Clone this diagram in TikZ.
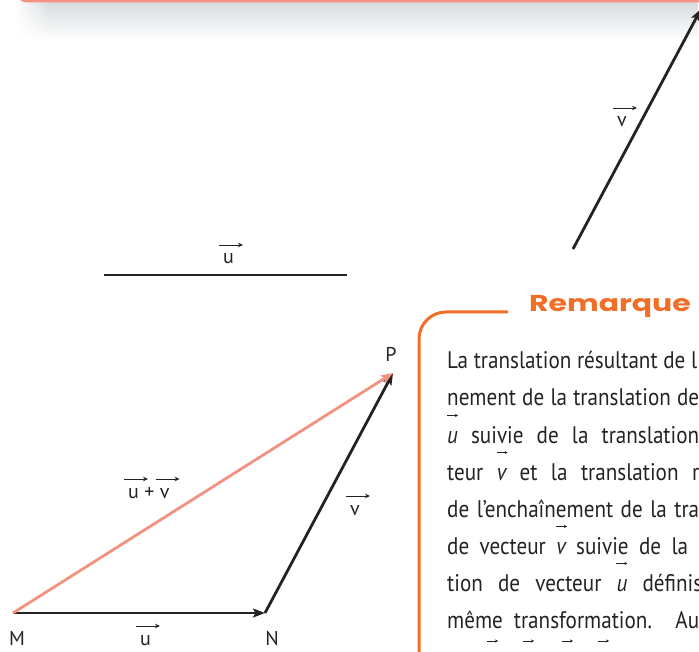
\documentclass[tikz,border=0pt]{standalone}
\usepackage{fontspec}
\usepackage{graphicx}
\usetikzlibrary{arrows.meta,fadings}
\setmainfont{PT Sans}
\newfontfamily\textefont[FakeStretch=0.88]{PT Sans}
\newfontfamily\titrefont[FakeStretch=1.3]{Poppins}
\definecolor{saumon}{RGB}{243,146,128}
\definecolor{orangerem}{RGB}{240,110,40}
\definecolor{encre}{RGB}{38,34,35}
\definecolor{ombre}{RGB}{214,218,221}

% fleche au-dessus d'une lettre (figure)
\newcommand{\vfig}[1]{\tikz[baseline=(t.base)]{\node[inner sep=0pt] (t) {#1};
  \draw[overlay, encre, line width=0.9pt, -{Stealth[length=5pt,width=4.5pt]}] ([xshift=-4pt,yshift=19pt]t.base west) -- ++(24pt,0pt);}}
% fleche au-dessus d'une lettre (texte)
\newcommand{\vtxt}[1]{\tikz[baseline=(t.base)]{\node[inner sep=0pt] (t) {\itshape #1};
  \draw[overlay, encre, line width=0.6pt, -{Stealth[length=3pt,width=3pt]}] ([yshift=27.5pt]t.base west) -- ++(11pt,0pt);}}

\begin{document}
\begin{tikzpicture}[x=1pt, y=-1pt,
  trait/.style={line width=2.8pt, draw=encre},
  fleche/.style={trait, -{Stealth[length=12pt,width=9pt,inset=2.5pt]}},
  somme/.style={fleche, draw=saumon, fill=saumon},
  etiq/.style={inner sep=0pt, anchor=base, text=encre, font=\fontsize{20}{24}\selectfont},
  ligne/.style={inner sep=0pt, anchor=base west, text=encre, font=\textefont\fontsize{24}{28}\selectfont},
  titre/.style={inner sep=0pt, anchor=base west, text=orangerem, font=\titrefont\bfseries\fontsize{23}{26}\selectfont}]
\useasboundingbox (0,0) rectangle (699,652);
\clip (0,0) rectangle (699,652);

% bas du cadre precedent
\fill[ombre, path fading=south] (15,2) rectangle (699,40);
\fill[white, path fading=east] (15,2) rectangle (50,40);
\draw[saumon, line width=3pt, rounded corners=14pt] (14,-30) -- (14,1) -- (710,1);

% vecteurs u et v
\coordinate (u0) at (104,275);
\coordinate (u1) at (347,275);
\coordinate (v0) at (573,249);
\coordinate (v1) at (701,9);
\draw[trait, line width=2.6pt] (u0) -- (u1);
\draw[fleche] (v0) -- (v1);
\node[etiq, anchor=base west] (nomU) at (223,264) {\vfig{u}};
\node[etiq, anchor=base west] (nomV) at (617,127) {\vfig{v}};

% triangle MNP
\coordinate (M) at (13,613);
\coordinate (N) at (265,613);
\coordinate (P) at (393,373);
\draw[fleche] (M) -- (N);
\draw[fleche] (N) -- (P);
\draw[somme] (M) -- (P);
\node[etiq] (nomM) at (17,645) {M};
\node[etiq] (nomN) at (272,645) {N};
\node[etiq] (nomP) at (391,362) {P};
\node[etiq, anchor=base west] (nomMN) at (140,645) {\vfig{u}};
\node[etiq, anchor=base west] (nomNP) at (350,515) {\vfig{v}};
\node[etiq, anchor=base west] (nomMP) at (128,498) {\vfig{u} + \vfig{v}};

% encadre Remarque
\draw[orangerem, line width=3pt, rounded corners=27pt] (508,312) -- (419,312) -- (419,680);
\node[titre] (remarque) at (529,312) {Remarque};
\node[ligne] (l1) at (447,368) {\makebox[250pt][s]{La translation résultant de l}};
\node[ligne] (l2) at (447,405) {\makebox[252pt][s]{nement de la translation de}};
\node[ligne] (l3) at (447,443) {\makebox[252pt][s]{\vtxt{u} suivie de la translation}};
\node[ligne] (l4) at (447,480) {\makebox[252pt][s]{teur \vtxt{v} et la translation r}};
\node[ligne] (l5) at (447,517) {\makebox[252pt][s]{de l’enchaînement de la tra}};
\node[ligne] (l6) at (447,554) {\makebox[241pt][s]{de vecteur \vtxt{v} suivie de la}};
\node[ligne] (l7) at (447,591) {\makebox[255pt][s]{tion de vecteur \vtxt{u} définis}};
\node[ligne] (l8) at (447,628) {\makebox[252pt][s]{même transformation. Au}};
\foreach \x in {487,523,562,598}
  \draw[encre, line width=0.6pt, -{Stealth[length=3pt,width=3pt]}] (\x,641) -- ++(11,0);
\end{tikzpicture}
\end{document}
